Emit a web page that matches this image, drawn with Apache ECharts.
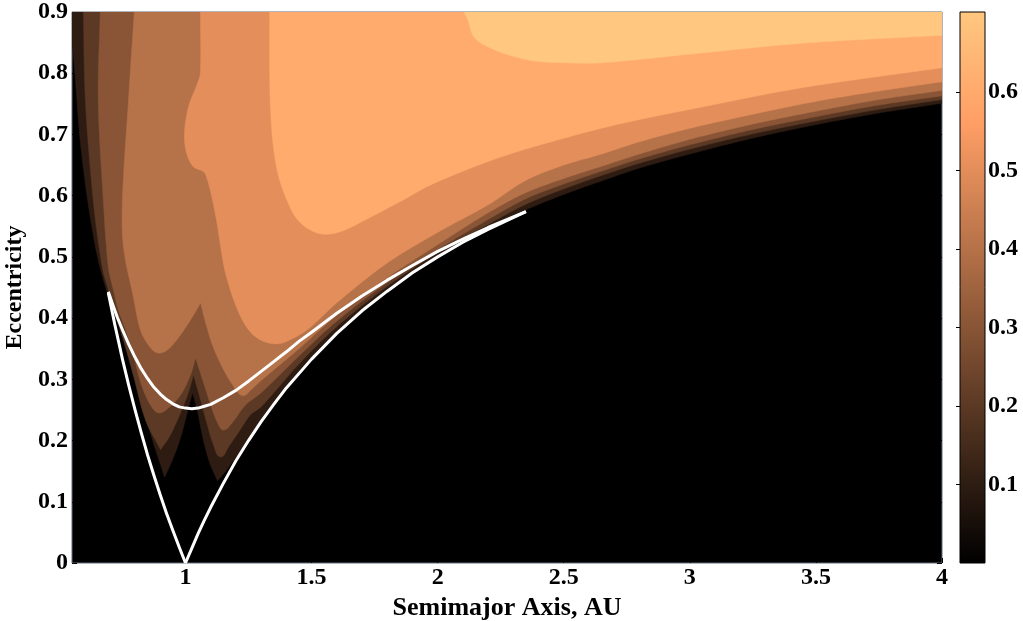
<!DOCTYPE html>
<html><head><meta charset="utf-8">
<script src="https://cdn.jsdelivr.net/npm/echarts@6/dist/echarts.min.js"></script>
<style>html,body{margin:0;padding:0;background:#fff}#c{width:1023px;height:621px}</style>
</head><body><div id="c"></div>
<script>
// ---- axes / ticks ----
const xMin = 0.55, xMax = 4, yMin = 0, yMax = 0.9;
const xTicks = [1, 1.5, 2, 2.5, 3, 3.5, 4];
const yTicks = [0, 0.1, 0.2, 0.3, 0.4, 0.5, 0.6, 0.7, 0.8, 0.9];
const cbTicks = [0.1, 0.2, 0.3, 0.4, 0.5, 0.6];
const levels = [0.1, 0.2, 0.3, 0.4, 0.5, 0.6, 0.7];
const cbMax = 0.7018;

// ---- filled-contour regions (value >= level), boundaries: [a, e] ----
const band1 = [[0.55,0.9],[4,0.9],[4,0.751],[3.75,0.735],[3.5,0.716],[3.25,0.694],[3,0.668],[2.8,0.645],[2.65,0.624],[2.5,0.602],[2.35,0.577],[2.2,0.548],[2,0.503],[1.8,0.447],[1.6,0.378],[1.45,0.314],[1.3,0.235],[1.246,0.195],[1.199,0.172],[1.163,0.152],[1.127,0.134],[1.095,0.165],[1.068,0.206],[1.048,0.247],[1.028,0.278],[1.008,0.247],[0.98,0.204],[0.948,0.168],[0.917,0.14],[0.873,0.196],[0.821,0.266],[0.77,0.345],[0.726,0.396],[0.686,0.446],[0.65,0.502],[0.623,0.563],[0.6,0.628],[0.58,0.7],[0.567,0.77],[0.553,0.84],[0.55,0.845]];
const band2 = [[0.595,0.9],[4,0.9],[4,0.757],[3.75,0.741],[3.5,0.722],[3.25,0.701],[3,0.676],[2.8,0.653],[2.65,0.633],[2.5,0.611],[2.35,0.586],[2.2,0.553],[2,0.507],[1.8,0.452],[1.6,0.386],[1.45,0.325],[1.3,0.255],[1.258,0.242],[1.211,0.214],[1.171,0.19],[1.139,0.173],[1.111,0.193],[1.087,0.225],[1.06,0.266],[1.032,0.307],[1.008,0.274],[0.972,0.237],[0.936,0.206],[0.901,0.185],[0.841,0.234],[0.793,0.307],[0.742,0.381],[0.694,0.446],[0.67,0.483],[0.634,0.593],[0.603,0.756]];
const band3 = [[0.662,0.9],[4,0.9],[4,0.763],[3.75,0.748],[3.5,0.729],[3.25,0.708],[3,0.683],[2.8,0.66],[2.65,0.64],[2.5,0.619],[2.35,0.595],[2.2,0.561],[2,0.512],[1.8,0.458],[1.6,0.395],[1.45,0.338],[1.3,0.278],[1.238,0.258],[1.187,0.23],[1.151,0.217],[1.127,0.229],[1.1,0.258],[1.068,0.299],[1.04,0.335],[1.02,0.307],[0.98,0.274],[0.932,0.253],[0.893,0.245],[0.861,0.258],[0.825,0.291],[0.793,0.34],[0.762,0.381],[0.734,0.413],[0.714,0.446],[0.694,0.483],[0.674,0.593],[0.654,0.756]];
const band4 = [[0.797,0.9],[4,0.9],[4,0.772],[3.75,0.757],[3.5,0.738],[3.25,0.717],[3,0.692],[2.8,0.668],[2.65,0.648],[2.5,0.628],[2.35,0.605],[2.2,0.572],[2,0.52],[1.8,0.466],[1.6,0.405],[1.45,0.35],[1.3,0.298],[1.26,0.283],[1.226,0.273],[1.187,0.291],[1.147,0.319],[1.107,0.356],[1.079,0.394],[1.06,0.425],[1.02,0.397],[0.972,0.368],[0.928,0.348],[0.889,0.343],[0.853,0.356],[0.821,0.381],[0.793,0.435],[0.754,0.516],[0.75,0.593],[0.774,0.756]];
const band5 = [[1.059,0.9],[4,0.9],[4,0.786],[3.75,0.771],[3.5,0.754],[3.25,0.733],[3,0.71],[2.8,0.688],[2.65,0.668],[2.5,0.65],[2.35,0.625],[2.2,0.585],[2,0.54],[1.8,0.49],[1.6,0.425],[1.48,0.38],[1.39,0.36],[1.35,0.358],[1.31,0.362],[1.27,0.372],[1.235,0.39],[1.205,0.415],[1.178,0.446],[1.155,0.48],[1.14,0.515],[1.125,0.555],[1.107,0.593],[1.087,0.626],[1.072,0.639],[1.032,0.647],[1.004,0.67],[0.996,0.702],[1.012,0.745],[1.048,0.784],[1.059,0.8]];
const band6 = [[1.334,0.9],[4,0.9],[4,0.809],[3.44,0.776],[3.05,0.745],[2.73,0.718],[2.52,0.696],[2.25,0.663],[1.985,0.62],[1.85,0.59],[1.72,0.562],[1.62,0.542],[1.55,0.537],[1.49,0.545],[1.44,0.563],[1.4,0.595],[1.366,0.637],[1.346,0.69],[1.337,0.745],[1.334,0.8]];
const band7 = [[2.105,0.9],[4,0.9],[4,0.862],[3.444,0.849],[3.046,0.833],[2.649,0.817],[2.518,0.817],[2.383,0.82],[2.28,0.83],[2.2,0.843],[2.144,0.859],[2.12,0.887]];
const bands = [band1, band2, band3, band4, band5, band6, band7];

// ---- white curves [a, e] ----
const crossingLeft = [[0.694,0.441],[0.72,0.389],[0.75,0.333],[0.775,0.29],[0.8,0.25],[0.825,0.212],[0.85,0.176],[0.875,0.143],[0.9,0.111],[0.925,0.081],[0.95,0.053],[0.975,0.026],[1,0]];
const crossingRight = [[1,0],[1.025,0.024],[1.05,0.048],[1.075,0.07],[1.1,0.091],[1.15,0.13],[1.2,0.167],[1.25,0.2],[1.3,0.231],[1.35,0.259],[1.4,0.286],[1.5,0.333],[1.6,0.375],[1.7,0.412],[1.8,0.444],[1.9,0.474],[2,0.5],[2.1,0.524],[2.2,0.545],[2.35,0.574]];
const upperCurve = [[0.694,0.443],[0.71,0.424],[0.73,0.401],[0.75,0.381],[0.775,0.357],[0.8,0.336],[0.825,0.317],[0.85,0.301],[0.875,0.287],[0.9,0.276],[0.925,0.267],[0.95,0.26],[0.975,0.255],[1,0.253],[1.025,0.252],[1.05,0.253],[1.075,0.256],[1.1,0.259],[1.15,0.27],[1.2,0.282],[1.25,0.297],[1.3,0.313],[1.35,0.329],[1.4,0.345],[1.45,0.362],[1.5,0.377],[1.6,0.408],[1.7,0.436],[1.8,0.462],[1.9,0.486],[2,0.509],[2.1,0.529],[2.2,0.548],[2.35,0.574]];

// copper colormap (style)
function copper(t){
  t = Math.max(0, Math.min(1, t));
  const r = Math.round(255*Math.min(1, 1.25*t)), g = Math.round(255*0.7812*t), b = Math.round(255*0.4975*t);
  return 'rgb(' + r + ',' + g + ',' + b + ')';
}
const bandColors = levels.map(v => copper(v/0.7));

// smooth closed outline in pixel space (Hermite), keeping cusps and plot-edge corners sharp
function smoothOutline(data, px){
  const n = px.length, eps = 1e-9;
  const onEdge = data.map(([a, e]) => a <= xMin + eps || a >= xMax - eps || e >= yMax - eps || e <= yMin + eps);
  const sharp = px.map((p, i) => {
    if (onEdge[i]) return true;
    const pr = px[(i - 1 + n) % n], nx = px[(i + 1) % n];
    const v1 = [p[0] - pr[0], p[1] - pr[1]], v2 = [nx[0] - p[0], nx[1] - p[1]];
    const c = (v1[0]*v2[0] + v1[1]*v2[1]) / (Math.hypot(v1[0], v1[1]) * Math.hypot(v2[0], v2[1]) || 1);
    return c < -0.45;
  });
  const out = [];
  for (let i = 0; i < n; i++){
    const j = (i + 1) % n, P0 = px[i], P1 = px[j];
    const L = Math.hypot(P1[0] - P0[0], P1[1] - P0[1]);
    out.push(P0);
    if (onEdge[i] && onEdge[j]) continue;
    const tan = (k) => {
      if (sharp[k]) return [P1[0] - P0[0], P1[1] - P0[1]];
      const a = px[(k - 1 + n) % n], b = px[(k + 1) % n];
      const d = [b[0] - a[0], b[1] - a[1]], m = Math.hypot(d[0], d[1]) || 1;
      return [d[0] / m * L, d[1] / m * L];
    };
    const m0 = tan(i), m1 = tan(j);
    const steps = Math.max(2, Math.ceil(L / 3));
    for (let s = 1; s < steps; s++){
      const t = s / steps, t2 = t*t, t3 = t2*t;
      const h00 = 2*t3 - 3*t2 + 1, h10 = t3 - 2*t2 + t, h01 = -2*t3 + 3*t2, h11 = t3 - t2;
      out.push([h00*P0[0] + h10*m0[0] + h01*P1[0] + h11*m1[0], h00*P0[1] + h10*m0[1] + h01*P1[1] + h11*m1[1]]);
    }
  }
  return out;
}

const FONT = "'Liberation Serif','Times New Roman',serif";
const lbl = {fontFamily: FONT, fontWeight: 'bold', fontSize: 24, color: '#000'};
const nameLbl = {fontFamily: FONT, fontWeight: 'bold', fontSize: 26, color: '#000'};
const whiteLine = {type: 'line', xAxisIndex: 0, yAxisIndex: 0, showSymbol: false, symbol: 'none', z: 5, smooth: false,
                   lineStyle: {color: '#fff', width: 3, join: 'round'}, silent: true};

const chart = echarts.init(document.getElementById('c'), null, {renderer: 'canvas'});
chart.setOption({
  animation: false,
  backgroundColor: '#fff',
  grid: [
    {left: 72, top: 12, width: 870, height: 551, outerBoundsMode: 'none', containLabel: false,
     show: true, backgroundColor: '#000', borderColor: '#5e6a76', borderWidth: 1},
    {left: 960, top: 12, width: 25, height: 551, outerBoundsMode: 'none', containLabel: false, show: false}
  ],
  xAxis: [
    {gridIndex: 0, type: 'value', min: xMin, max: xMax,
     axisLine: {show: false}, splitLine: {show: false},
     axisTick: {show: true, inside: true, length: 5, customValues: xTicks, lineStyle: {color: '#000'}},
     axisLabel: Object.assign({customValues: xTicks, margin: 3, formatter: v => String(v)}, lbl),
     name: 'Semimajor Axis, AU', nameLocation: 'middle', nameGap: 26, nameTextStyle: nameLbl},
    {gridIndex: 1, type: 'value', min: 0, max: 1, show: false}
  ],
  yAxis: [
    {gridIndex: 0, type: 'value', min: yMin, max: yMax,
     axisLine: {show: false}, splitLine: {show: false},
     axisTick: {show: true, inside: true, length: 5, customValues: yTicks, lineStyle: {color: '#000'}},
     axisLabel: Object.assign({customValues: yTicks, margin: 4, formatter: v => String(v)}, lbl),
     name: 'Eccentricity', nameLocation: 'middle', nameGap: 40, nameRotate: 90, nameTextStyle: lbl},
    {gridIndex: 0, type: 'value', min: yMin, max: yMax, position: 'right',
     axisLine: {show: false}, splitLine: {show: false},
     axisTick: {show: true, inside: true, length: 5, customValues: yTicks, lineStyle: {color: '#000'}},
     axisLabel: {show: false}},
    {gridIndex: 1, type: 'value', min: 0, max: cbMax, position: 'right',
     axisLine: {show: false}, splitLine: {show: false},
     axisTick: {show: true, inside: true, length: 4, customValues: cbTicks, lineStyle: {color: '#000'}},
     axisLabel: Object.assign({customValues: cbTicks, margin: 3, formatter: v => String(v)}, lbl)},
    {gridIndex: 1, type: 'value', min: 0, max: cbMax, position: 'left',
     axisLine: {show: false}, splitLine: {show: false},
     axisTick: {show: true, inside: true, length: 4, customValues: cbTicks, lineStyle: {color: '#000'}},
     axisLabel: {show: false}}
  ],
  series: [
    {type: 'custom', xAxisIndex: 0, yAxisIndex: 0, clip: true, silent: true, z: 1,
     data: bands.map(b => b[0]),
     renderItem: function(params, api){
       const poly = bands[params.dataIndex];
       const pts = smoothOutline(poly, poly.map(p => api.coord(p)));
       return {type: 'polygon', shape: {points: pts},
               style: {fill: bandColors[params.dataIndex], stroke: bandColors[params.dataIndex], lineWidth: 0.5}};
     }},
    Object.assign({data: crossingLeft}, whiteLine),
    Object.assign({data: crossingRight}, whiteLine),
    Object.assign({data: upperCurve}, whiteLine),
    {type: 'custom', xAxisIndex: 1, yAxisIndex: 2, silent: true, z: 1,
     data: [[0, 0]],
     renderItem: function(params, api){
       const p0 = api.coord([0, cbMax]), p1 = api.coord([1, 0]);
       return {type: 'rect', shape: {x: p0[0], y: p0[1], width: p1[0]-p0[0], height: p1[1]-p0[1]},
         style: {stroke: '#000', lineWidth: 1,
           fill: new echarts.graphic.LinearGradient(0, 0, 0, 1, [
             {offset: 0, color: copper(1)}, {offset: 0.2, color: copper(0.8)}, {offset: 1, color: copper(0)}])}};
     }}
  ]
});
</script></body></html>
